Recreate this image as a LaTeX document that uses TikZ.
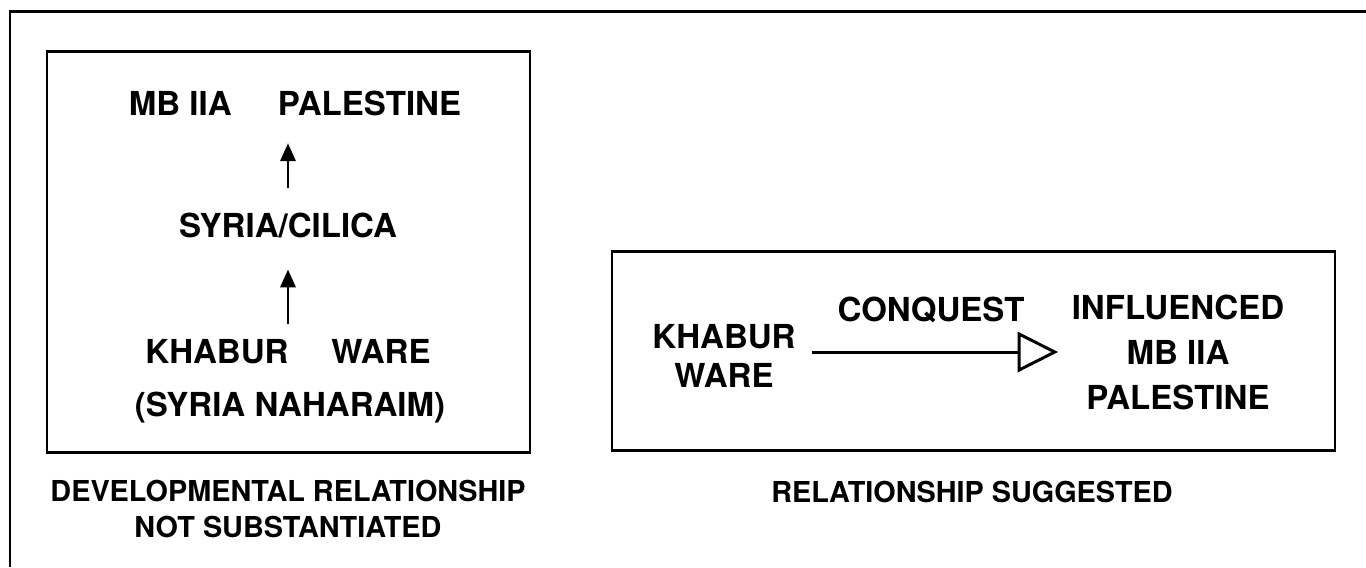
\documentclass[tikz,border=0pt]{standalone}
\usepackage{fontspec}
\setmainfont{TeX Gyre Heros}
\usetikzlibrary{arrows.meta}

\begin{document}
\begin{tikzpicture}[x=0.1mm,y=-0.1mm,
  frame/.style={draw,line width=0.85pt},
  place/.style={font=\fontsize{9.4pt}{11.1pt}\selectfont\bfseries,align=center,inner sep=0pt},
  note/.style={font=\fontsize{8.2pt}{10pt}\selectfont\bfseries,align=center,inner sep=0pt},
  uparrow/.style={-{Triangle[length=5.1pt,width=4.3pt]},line width=0.85pt},
  openarrow/.style={-{Triangle[open,length=11.5pt,width=11.4pt]},line width=0.85pt}]
\useasboundingbox (0,0) rectangle (1366,567);
% outer frame, cut at right and bottom
\draw[frame] (1366,11) -| (10,567);
% left box
\draw[frame] (47,51) rectangle (530,452);
\node[place] (mb) at (295,103) {MB IIA\hspace{1.4em}PALESTINE};
\node[place] (syria) at (288,225) {SYRIA/CILICA};
\node[place] (khabur) at (288,352) {KHABUR\hspace{1.3em}WARE};
\node[place] (naharaim) at (290,408) {(SYRIA NAHARAIM)};
\draw[uparrow,shorten <=4.3pt,shorten >=8.9pt] (khabur.north) -- (syria.south);
\draw[uparrow,shorten <=6.8pt,shorten >=7.7pt] (syria.north) -- (syria.north |- mb.south);
\node[note] (devnote) at (288,509) {DEVELOPMENTAL RELATIONSHIP\\NOT SUBSTANTIATED};
% right box
\draw[frame] (612,251) rectangle (1335,450);
\node[place] (khaburR) at (724,356) {KHABUR\\WARE};
\node[place,font=\fontsize{9.4pt}{12.8pt}\selectfont\bfseries] (influenced) at (1178,352) {INFLUENCED\\MB IIA\\PALESTINE};
\node[place] (conquest) at (931,310) {CONQUEST};
\draw[openarrow,shorten <=4.6pt,shorten >=3.7pt] (influenced.west -| khaburR.east) -- (influenced.west);
\node[note] (suggnote) at (972,492) {RELATIONSHIP SUGGESTED};
\end{tikzpicture}
\end{document}
